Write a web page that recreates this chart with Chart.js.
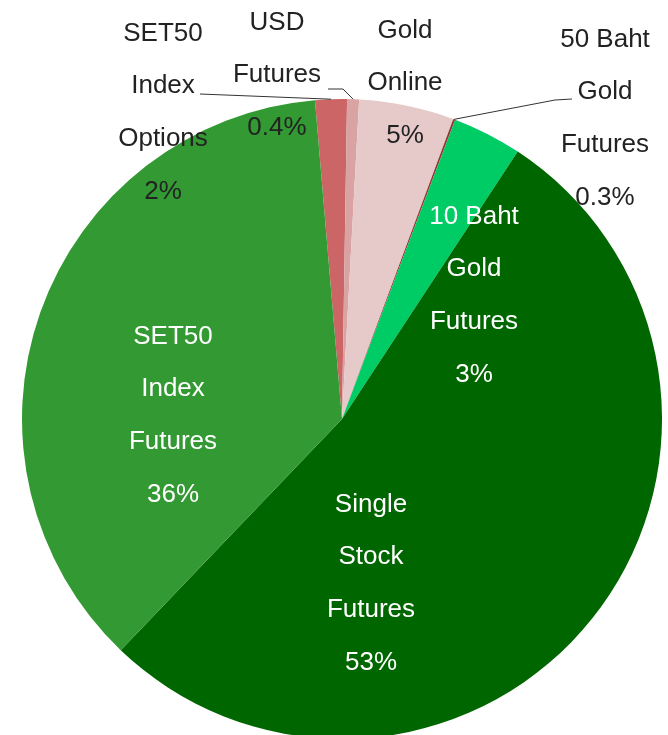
<!DOCTYPE html>
<html>
<head>
<meta charset="utf-8">
<script src="https://cdn.jsdelivr.net/npm/chart.js@4/dist/chart.umd.min.js"></script>
<style>
  html, body { margin: 0; padding: 0; background: #ffffff; overflow: hidden; }
  #wrap { position: absolute; left: 0; top: 0; width: 668px; height: 840px; }
</style>
</head>
<body>
<div id="wrap"><canvas id="c" width="668" height="840"></canvas></div>
<script>
// ---- data ----
const categories = ['SET50 Index Options', 'USD Futures', 'Gold Online', '50 Baht Gold Futures', '10 Baht Gold Futures', 'Single Stock Futures', 'SET50 Index Futures'];
const shares = [1.6, 0.6, 4.8, 0.1, 3.5, 52.9, 36.5];
const shareLabels = ['2%', '0.4%', '5%', '0.3%', '3%', '53%', '36%'];
const nameLines = [['SET50', 'Index', 'Options'], ['USD', 'Futures'], ['Gold', 'Online'], ['50 Baht', 'Gold', 'Futures'], ['10 Baht', 'Gold', 'Futures'], ['Single', 'Stock', 'Futures'], ['SET50', 'Index', 'Futures']];

// ---- styles / layout (not data) ----
const sliceColors = ['#cc6666', '#d9a3a3', '#e6c9c9', '#993333', '#00cc66', '#006600', '#339933'];
const textColors = ['#222222', '#222222', '#222222', '#222222', '#ffffff', '#ffffff', '#ffffff'];
// label block anchor (first line centre) as offsets from pie centre, in units of a 320px radius
const labelAnchors = [[-179, -388], [-65, -399], [63, -391], [263, -382], [132, -205], [29, 83], [-169, -85]];
// leader polyline points after the slice edge point (offsets from pie centre)
const leaders = [[[-142, -325]], [[1, -330], [-14, -330]], null, [[213, -319], [230, -320]], null, null, null];
const lineGap = 52.8;

const labelPlugin = {
  id: 'sliceLabels',
  afterDraw(chart) {
    const ctx = chart.ctx;
    const arcs = chart.getDatasetMeta(0).data;
    ctx.save();
    arcs.forEach((arc, i) => {
      const p = arc.getProps(['x', 'y', 'startAngle', 'endAngle', 'outerRadius'], true);
      const k = p.outerRadius / 320;
      if (leaders[i]) {
        const mid = (p.startAngle + p.endAngle) / 2;
        ctx.beginPath();
        ctx.moveTo(p.x + Math.cos(mid) * p.outerRadius, p.y + Math.sin(mid) * p.outerRadius);
        leaders[i].forEach(pt => ctx.lineTo(p.x + pt[0] * k, p.y + pt[1] * k));
        ctx.strokeStyle = '#333333';
        ctx.lineWidth = 1;
        ctx.stroke();
      }
      const lines = nameLines[i].concat([shareLabels[i]]);
      const ax = p.x + labelAnchors[i][0] * k;
      const ay = p.y + labelAnchors[i][1] * k;
      ctx.font = '26px "Liberation Sans", Arial, sans-serif';
      ctx.textAlign = 'center';
      ctx.textBaseline = 'alphabetic';
      ctx.fillStyle = textColors[i];
      lines.forEach((t, j) => ctx.fillText(t, ax, ay + j * lineGap + 9.5));
    });
    ctx.restore();
  }
};

new Chart(document.getElementById('c'), {
  type: 'pie',
  data: {
    labels: categories,
    datasets: [{ data: shares, backgroundColor: sliceColors, borderWidth: 0 }]
  },
  options: {
    responsive: false,
    animation: false,
    devicePixelRatio: 1,
    rotation: -4.85,
    layout: { padding: { left: 22, right: 6, top: 99, bottom: 101 } },
    plugins: { legend: { display: false }, tooltip: { enabled: false } }
  },
  plugins: [labelPlugin]
});
</script>
</body>
</html>
